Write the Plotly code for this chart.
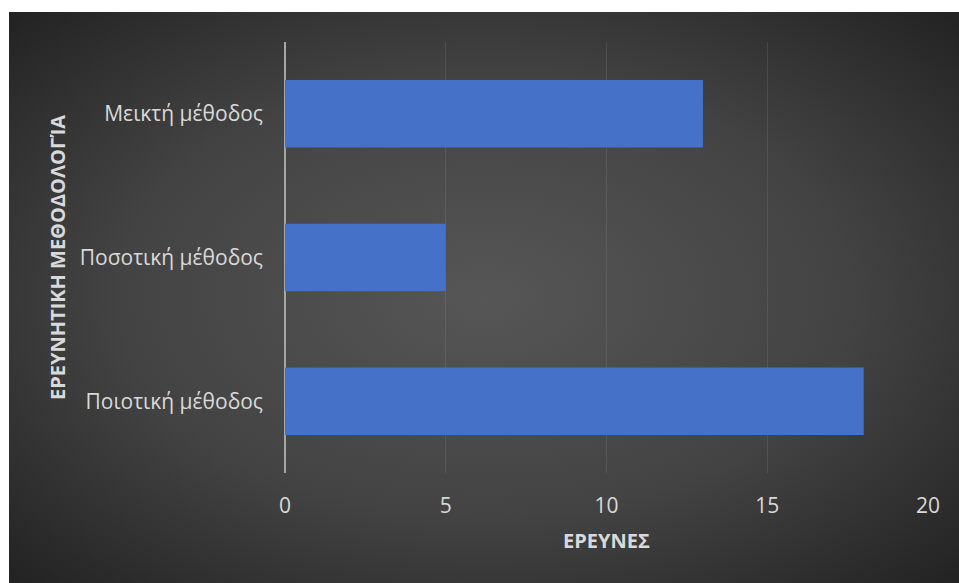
import base64
import plotly.graph_objects as go

categories = ["Ποιοτική μέθοδος", "Ποσοτική μέθοδος", "Μεικτή μέθοδος"]
values = [18, 5, 13]
x_ticks = [0, 5, 10, 15, 20]
x_title = "ΕΡΕΥΝΕΣ"
y_title = "ΕΡΕΥΝΗΤΙΚΗ ΜΕΘΟΔΟΛΟΓΊΑ"

W, H = 959, 583
ML, MR, MT, MB = 285, 31, 42, 110
pw, ph = W - ML - MR, H - MT - MB

def px_to_paper_x(p):
    return (p - ML) / pw

def px_to_paper_y(p):
    return (H - MB - p) / ph

svg = (
    '<svg xmlns="http://www.w3.org/2000/svg" width="950" height="571" viewBox="0 0 950 571" preserveAspectRatio="none">'
    '<defs><radialGradient id="g" cx="50%" cy="50%" r="70%" fx="50%" fy="50%">'
    '<stop offset="0%" stop-color="#565656"/>'
    '<stop offset="55%" stop-color="#434343"/>'
    '<stop offset="100%" stop-color="#232323"/>'
    '</radialGradient></defs>'
    '<rect x="0" y="0" width="950" height="571" fill="url(#g)"/></svg>'
)
src = "data:image/svg+xml;base64," + base64.b64encode(svg.encode()).decode()

x0, x1 = px_to_paper_x(9), px_to_paper_x(959)
y0, y1 = px_to_paper_y(583), px_to_paper_y(12)

fig = go.Figure()
fig.add_trace(go.Bar(
    y=categories, x=values, orientation="h", width=0.47,
    marker=dict(color="#4571c8", line=dict(width=0)),
    hoverinfo="x+y",
))

text_col = "#d9d9d9"
font_family = "Open Sans, Noto Sans, DejaVu Sans, sans-serif"

fig.update_layout(
    width=W, height=H,
    margin=dict(l=ML, r=MR, t=MT, b=MB, pad=0),
    paper_bgcolor="white",
    plot_bgcolor="rgba(0,0,0,0)",
    showlegend=False,
    font=dict(family=font_family, color=text_col),
    images=[dict(
        source=src, xref="paper", yref="paper",
        x=x0, y=y1, sizex=x1 - x0, sizey=y1 - y0,
        xanchor="left", yanchor="top", sizing="stretch", layer="below",
    )],
    xaxis=dict(
        range=[0, 20], tickvals=x_ticks, ticktext=[str(t) for t in x_ticks],
        showgrid=True, gridcolor="rgba(255,255,255,0.09)", gridwidth=1,
        zeroline=True, zerolinecolor="#a6a6a6", zerolinewidth=2,
        showline=False, ticks="", ticklabelstandoff=18,
        tickfont=dict(size=21, color=text_col),
        title=dict(text="<b>" + x_title + "</b>", font=dict(size=20, color=text_col), standoff=15),
        fixedrange=True,
    ),
    yaxis=dict(
        type="category", categoryorder="array", categoryarray=categories,
        showgrid=False, zeroline=False, showline=False, ticks="",
        ticklabelstandoff=21,
        tickfont=dict(size=21, color=text_col),
        title=dict(text="<b>" + y_title + "</b>", font=dict(size=20, color=text_col), standoff=8),
        fixedrange=True,
    ),
)

fig.write_html("out.html")
